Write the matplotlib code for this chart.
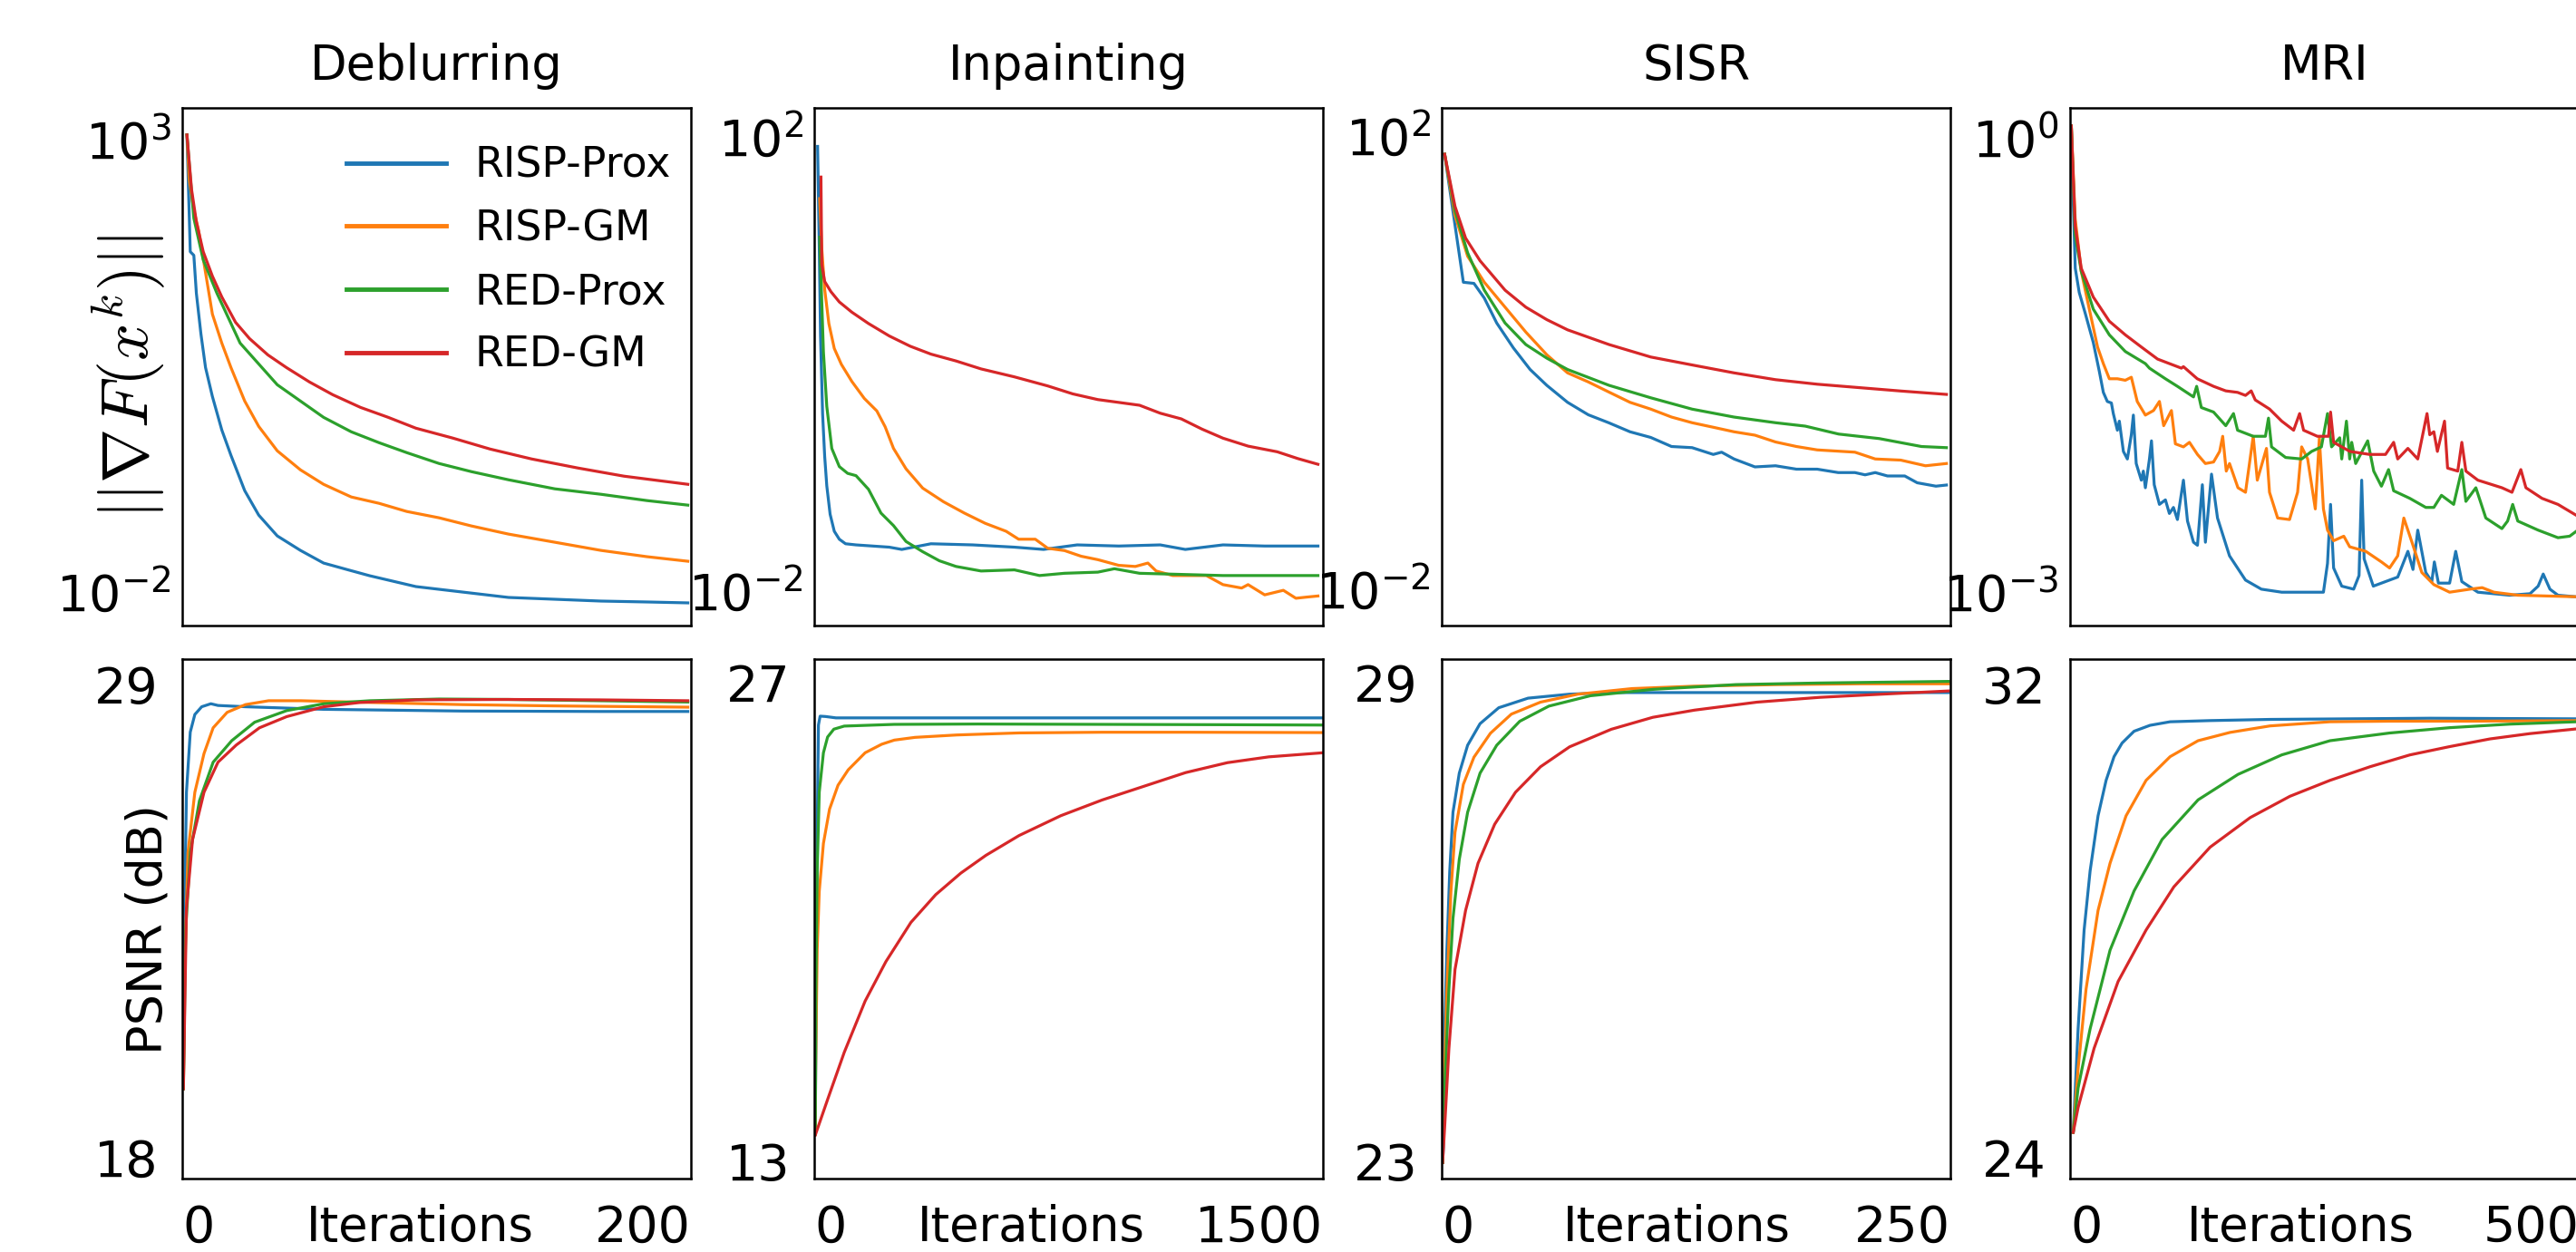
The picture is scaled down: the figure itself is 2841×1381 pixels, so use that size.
import numpy as np
import matplotlib
matplotlib.use('Agg')
import matplotlib.pyplot as plt
from matplotlib.ticker import NullLocator, FixedLocator

plt.rcParams['font.family'] = ['DejaVu Sans']
plt.rcParams['mathtext.fontset'] = 'dejavusans'

# -------- labels / axes settings --------
methods = ['RISP-Prox', 'RISP-GM', 'RED-Prox', 'RED-GM']
colors = ['#1f77b4', '#ff7f0e', '#2ca02c', '#d62728']
tasks = ['Deblurring', 'Inpainting', 'SISR', 'MRI']
max_iters = [200, 1500, 250, 500]

grad_ticks = [[1e-2, 1e3], [1e-2, 1e2], [1e-2, 1e2], [1e-3, 1e0]]
grad_tick_labels = [[r'$10^{-2}$', r'$10^{3}$'], [r'$10^{-2}$', r'$10^{2}$'],
                    [r'$10^{-2}$', r'$10^{2}$'], [r'$10^{-3}$', r'$10^{0}$']]
grad_ylim_log10 = [(-2.32, 3.40), (-2.26, 2.30), (-2.28, 2.29), (-3.19, 0.23)]

psnr_ticks = [[18, 29], [13, 27], [23, 29], [24, 32]]
psnr_ylim = [(17.51, 29.60), (12.50, 27.69), (22.79, 29.30), (23.65, 32.43)]

# -------- data --------
# every list of lists is ordered: RISP-Prox, RISP-GM, RED-Prox, RED-GM
# gradient norms are stored as log10 values

# Deblurring, ||grad F||
deb_g_it = [
    [1.8, 3.1, 4.5, 5.5, 7.3, 9.1, 11.8, 15.5, 19.1, 24.5, 30.0, 37.3, 46.4, 55.5, 64.5, 73.6, 91.8, 110, 128.2, 146.4, 164.5, 182.7, 198.7],
    [1.8, 2.7, 4.5, 6.4, 9.1, 11.8, 15.5, 19.1, 24.5, 30.0, 37.3, 46.4, 55.5, 66.4, 77.3, 88.2, 100.9, 113.6, 128.2, 146.4, 164.5, 182.7, 198.7],
    [1.8, 3.1, 4.5, 8.2, 13.6, 22.7, 30.0, 37.3, 46.4, 55.5, 66.4, 77.3, 88.2, 100.9, 113.6, 128.2, 146.4, 164.5, 182.7, 198.7],
    [1.8, 3.6, 5.5, 8.2, 11.8, 15.5, 20.9, 26.4, 33.6, 40.9, 50.0, 59.1, 70.0, 80.9, 91.8, 106.4, 120.9, 137.3, 155.5, 173.6, 198.7],
]
deb_g_log = [
    [3.10, 1.81, 1.77, 1.35, 0.90, 0.53, 0.21, -0.16, -0.44, -0.83, -1.10, -1.33, -1.49, -1.63, -1.70, -1.77, -1.89, -1.95, -2.01, -2.03, -2.05, -2.06, -2.07],
    [3.10, 2.60, 2.27, 2.04, 1.58, 1.12, 0.80, 0.53, 0.16, -0.12, -0.39, -0.60, -0.76, -0.90, -0.97, -1.06, -1.13, -1.22, -1.31, -1.40, -1.49, -1.56, -1.61],
    [3.10, 2.64, 2.18, 1.72, 1.35, 0.80, 0.57, 0.34, 0.16, -0.02, -0.18, -0.30, -0.41, -0.53, -0.62, -0.71, -0.81, -0.87, -0.94, -0.99],
    [3.10, 2.50, 2.14, 1.81, 1.54, 1.31, 1.03, 0.85, 0.67, 0.53, 0.37, 0.23, 0.09, -0.02, -0.14, -0.25, -0.37, -0.48, -0.58, -0.67, -0.76],
]

# Inpainting, ||grad F||
inp_g_it = [
    [9.8, 14.8, 18.4, 24.6, 30.7, 36.9, 46.7, 59, 73.8, 92.2, 123, 221, 258, 344, 467, 590, 676, 775, 898, 1020, 1094, 1205, 1328, 1485],
    [16, 22.1, 30.7, 43, 59, 79.9, 110.7, 147.5, 184.4, 209, 233.6, 270.5, 319.7, 381, 442.6, 504, 565.6, 602.5, 651.6, 688.5, 737.7, 786.9, 836, 897.5, 946.7, 983.6, 1008, 1057, 1156, 1205, 1260, 1279, 1328, 1383, 1420, 1451, 1485],
    [16, 20.9, 27, 36.9, 51.6, 73.8, 98.4, 123, 159.8, 196.7, 233.6, 270.5, 319.7, 368.9, 418, 491.8, 590, 664, 737.7, 836, 885, 959, 1082, 1205, 1328, 1485],
    [19.7, 22.1, 30.7, 49.2, 73.8, 110.7, 159.8, 221.3, 282.8, 344.3, 418, 491.8, 590, 688.5, 762.3, 836, 910, 959, 1020, 1082, 1143, 1205, 1279, 1365, 1426, 1485],
]
inp_g_log = [
    [1.96, 1.06, 0.29, -0.40, -0.77, -1.03, -1.28, -1.43, -1.50, -1.54, -1.55, -1.57, -1.59, -1.54, -1.55, -1.57, -1.59, -1.55, -1.56, -1.55, -1.59, -1.55, -1.56, -1.56],
    [1.50, 1.06, 0.70, 0.40, 0.18, 0.04, -0.11, -0.26, -0.37, -0.51, -0.70, -0.88, -1.05, -1.17, -1.27, -1.36, -1.43, -1.50, -1.50, -1.58, -1.60, -1.65, -1.68, -1.73, -1.74, -1.71, -1.78, -1.82, -1.82, -1.90, -1.93, -1.90, -1.99, -1.95, -2.02, -2.01, -2.00],
    [1.16, 0.70, 0.15, -0.33, -0.70, -0.86, -0.92, -0.94, -1.06, -1.27, -1.38, -1.52, -1.61, -1.69, -1.74, -1.78, -1.77, -1.82, -1.80, -1.79, -1.76, -1.80, -1.81, -1.82, -1.82, -1.82],
    [1.69, 0.92, 0.77, 0.68, 0.59, 0.50, 0.40, 0.29, 0.20, 0.13, 0.07, 0.00, -0.07, -0.15, -0.22, -0.27, -0.30, -0.32, -0.39, -0.44, -0.53, -0.61, -0.68, -0.73, -0.79, -0.84],
]

# SISR, ||grad F||
sis_g_it = [
    [1.4, 10.6, 15.8, 20.9, 27, 35.2, 43.4, 51.6, 61.8, 72, 82, 92.5, 102.7, 112.9, 123, 133.4, 137.5, 143.6, 153.9, 164, 174.3, 184.5, 194.8, 203, 208, 213, 219, 227.5, 233.6, 242.8, 248],
    [1.4, 6.5, 12.7, 20.9, 31.1, 41.3, 51.6, 61.8, 72, 82.2, 92.5, 102.7, 112.9, 123, 133.4, 143.6, 153.9, 164, 174.3, 184.5, 203, 213, 225.5, 237.7, 248],
    [1.4, 6.5, 12.7, 20.9, 31.1, 41.3, 51.6, 61.8, 82.2, 102.7, 123, 143.6, 164, 178.6, 195, 215, 235.7, 248],
    [1.4, 6.5, 11.7, 18.8, 31.1, 41.3, 51.6, 61.8, 82.2, 102.7, 123, 143.6, 164, 184.5, 205, 225.5, 248],
]
sis_g_log = [
    [1.88, 0.75, 0.74, 0.61, 0.39, 0.17, -0.02, -0.16, -0.31, -0.42, -0.49, -0.57, -0.62, -0.70, -0.71, -0.77, -0.75, -0.81, -0.88, -0.87, -0.90, -0.90, -0.93, -0.93, -0.95, -0.93, -0.96, -0.96, -1.02, -1.05, -1.04],
    [1.88, 1.34, 0.98, 0.75, 0.53, 0.31, 0.11, -0.05, -0.13, -0.22, -0.31, -0.37, -0.44, -0.49, -0.53, -0.57, -0.60, -0.66, -0.70, -0.73, -0.75, -0.81, -0.82, -0.87, -0.85],
    [1.88, 1.38, 1.01, 0.68, 0.39, 0.20, 0.08, -0.02, -0.16, -0.27, -0.37, -0.44, -0.49, -0.52, -0.59, -0.63, -0.70, -0.71],
    [1.88, 1.42, 1.14, 0.94, 0.68, 0.53, 0.42, 0.33, 0.20, 0.09, 0.02, -0.05, -0.11, -0.15, -0.18, -0.21, -0.24],
]

# MRI, ||grad F||
mri_g_it = [
    [1.2, 3.1, 5.1, 9, 15, 22.8, 28.7, 32.7, 36.6, 40.6, 42.5, 46.5, 48.4, 52.4, 56.3, 60.2, 62.2, 65, 70, 72, 74, 78, 80, 82.7, 87.8, 93.7, 97.6, 101.6, 105.5, 111.4, 115.4, 121.3, 125.2, 130, 133, 139, 144.9, 156.7, 172.4, 188, 208, 235, 249, 253, 256, 259, 267, 278.7, 284, 286.6, 289, 298, 314, 322, 332, 337, 341.7, 349.6, 355.5, 358, 362, 373, 379, 385, 400.8, 432, 452, 460, 465, 471.6, 479.5, 497],
    [1.2, 5, 11, 18.9, 27, 32.7, 38.6, 46.5, 54.3, 60.2, 66, 74, 82, 87.8, 92, 99.6, 103.5, 111.4, 117.3, 125.2, 133, 141, 147, 150, 153.5, 156.7, 165, 172.4, 180, 184, 193, 196, 204, 215.7, 223.6, 227.6, 233.5, 241, 245, 249, 253, 259, 269, 274.8, 290.6, 306, 314, 322, 328, 336, 345.7, 357.5, 373, 393, 405, 416.5, 440, 497],
    [1.2, 5, 11, 22.8, 38.6, 54.3, 74, 78, 93.7, 105.5, 121.3, 124.4, 129, 141, 153, 160.6, 164.6, 180, 192, 195, 198, 211.8, 227.6, 237.4, 247, 253, 257, 265, 267, 271.6, 274.8, 276.8, 280.7, 292.5, 298.4, 306, 313, 318, 333.9, 349.6, 357.5, 365, 377, 385, 389, 398.8, 408.6, 424.4, 430, 435, 440, 460, 479.5, 491, 497],
    [1.2, 5, 11, 22.8, 38.6, 54.3, 70, 86, 101.6, 109.4, 111.4, 125, 141, 153, 164.6, 172.4, 178, 182, 196, 208, 219.7, 225.6, 229.5, 243, 254, 256, 259, 275, 294.5, 310, 318, 322, 332, 341.7, 350.8, 353.5, 357.5, 361, 368, 371, 381, 385, 389, 400.8, 424.4, 434.3, 443, 448, 463.8, 479.5, 497],
]
mri_g_log = [
    [0.11, -0.39, -0.83, -0.99, -1.13, -1.32, -1.51, -1.65, -1.71, -1.72, -1.79, -1.90, -1.84, -2.04, -2.09, -1.93, -1.80, -2.12, -2.23, -2.17, -2.28, -2.09, -1.97, -2.26, -2.39, -2.36, -2.45, -2.41, -2.49, -2.23, -2.50, -2.64, -2.66, -2.26, -2.64, -2.19, -2.48, -2.73, -2.89, -2.95, -2.97, -2.97, -2.97, -2.78, -2.39, -2.81, -2.93, -2.95, -2.86, -2.23, -2.75, -2.93, -2.89, -2.87, -2.70, -2.82, -2.56, -2.84, -2.90, -2.77, -2.91, -2.91, -2.70, -2.90, -2.97, -2.99, -2.98, -2.93, -2.85, -2.95, -2.99, -3.00],
    [0.11, -0.50, -0.85, -1.10, -1.35, -1.46, -1.56, -1.56, -1.57, -1.55, -1.71, -1.80, -1.77, -1.71, -1.87, -1.77, -1.99, -2.01, -1.98, -2.06, -2.12, -2.11, -2.04, -1.94, -2.17, -2.12, -2.28, -2.31, -1.94, -2.23, -2.02, -2.31, -2.48, -2.49, -2.31, -2.01, -2.09, -2.42, -1.95, -2.42, -2.56, -2.63, -2.60, -2.67, -2.70, -2.77, -2.81, -2.73, -2.48, -2.64, -2.84, -2.92, -2.97, -2.95, -2.94, -2.97, -2.99, -3.00],
    [0.11, -0.61, -0.85, -1.10, -1.27, -1.38, -1.46, -1.49, -1.56, -1.61, -1.68, -1.61, -1.75, -1.78, -1.87, -1.79, -1.90, -1.94, -1.94, -1.82, -2.01, -2.08, -2.09, -2.04, -2.01, -1.79, -2.01, -1.95, -2.09, -1.84, -2.09, -1.98, -2.12, -1.97, -2.17, -2.27, -2.16, -2.30, -2.35, -2.41, -2.41, -2.33, -2.39, -2.16, -2.37, -2.28, -2.48, -2.55, -2.50, -2.39, -2.50, -2.56, -2.61, -2.60, -2.57],
    [0.11, -0.55, -0.83, -1.02, -1.18, -1.27, -1.35, -1.43, -1.47, -1.49, -1.48, -1.56, -1.61, -1.64, -1.65, -1.67, -1.64, -1.70, -1.76, -1.84, -1.90, -1.79, -1.90, -1.94, -1.94, -1.78, -1.98, -2.04, -2.06, -2.06, -1.98, -2.09, -2.02, -2.09, -1.79, -1.93, -1.91, -2.04, -1.84, -2.15, -2.17, -1.98, -2.17, -2.23, -2.28, -2.31, -2.16, -2.28, -2.35, -2.39, -2.46],
]

# Deblurring, PSNR (dB)
deb_p_it = [
    [0.4, 0.9, 1.6, 3.1, 4.9, 7.6, 11.2, 14, 24.8, 55.6, 110, 164, 198.7],
    [0.4, 0.9, 2.2, 4.9, 8.5, 12.1, 17.6, 24.8, 33.9, 46.6, 73.7, 110, 146, 198.7],
    [0.4, 1.3, 3.1, 6.7, 12.1, 19.4, 28.4, 41, 55.6, 73.7, 100.9, 128, 164, 198.7],
    [0.4, 1.6, 4, 8.5, 14, 21.2, 30.3, 41, 55.6, 69.8, 91.8, 128, 164, 198.7],
]
deb_p = [
    [19.6, 23.8, 26.5, 27.9, 28.31, 28.49, 28.56, 28.52, 28.49, 28.43, 28.39, 28.38, 28.38],
    [19.6, 22.4, 25.1, 26.5, 27.4, 28.0, 28.36, 28.54, 28.63, 28.63, 28.59, 28.54, 28.51, 28.48],
    [19.6, 23.3, 25.1, 26.3, 27.2, 27.7, 28.13, 28.40, 28.56, 28.63, 28.67, 28.66, 28.63, 28.60],
    [19.6, 23.8, 25.4, 26.5, 27.2, 27.6, 28.0, 28.26, 28.49, 28.59, 28.65, 28.66, 28.65, 28.63],
]

# Inpainting, PSNR (dB)
inp_p_it = [
    [3, 4.9, 8.6, 12.3, 17.2, 33, 64, 236, 727, 1500],
    [3, 4, 8.6, 14.7, 27, 45, 70, 100, 150, 199, 236, 297, 420, 604, 849, 1095, 1500],
    [3, 4.9, 8.6, 14.7, 27, 39.3, 57.7, 88.4, 236, 481, 849, 1218, 1500],
    [3, 39.3, 88.4, 150, 211, 285, 358, 432, 506, 604, 727, 849, 972, 1095, 1218, 1340, 1500],
]
inp_p = [
    [13.8, 16.9, 22.6, 25.76, 26.02, 26.01, 25.97, 25.97, 25.97, 25.97],
    [13.8, 15.7, 19.2, 20.9, 22.3, 23.3, 24.0, 24.45, 24.95, 25.2, 25.32, 25.40, 25.47, 25.53, 25.55, 25.55, 25.54],
    [13.8, 18.0, 21.5, 23.8, 24.95, 25.41, 25.64, 25.73, 25.78, 25.79, 25.78, 25.77, 25.76],
    [13.77, 14.81, 16.19, 17.69, 18.84, 19.99, 20.80, 21.43, 21.95, 22.53, 23.11, 23.57, 23.97, 24.37, 24.66, 24.83, 24.95],
]

# SISR, PSNR (dB)
sis_p_it = [
    [0.4, 0.8, 1.4, 2.5, 3.9, 5.5, 8.6, 12.7, 18.8, 28, 42.4, 62.8, 83.3, 124, 185.6, 249],
    [0.4, 1.4, 2.5, 4.5, 6.5, 10.6, 15.8, 23.9, 34.2, 48.5, 66.9, 93.5, 124, 165, 206, 249],
    [0.4, 1.4, 3.5, 5.5, 8.6, 12.7, 18.8, 27, 38.3, 52.6, 73, 103.7, 144.6, 185.6, 249],
    [0.4, 1.4, 3.5, 6.5, 11.7, 17.8, 26, 36.2, 48.5, 62.8, 83.3, 103.7, 124.2, 154.9, 185.6, 216.3, 249],
]
sis_p = [
    [22.99, 23.18, 24.66, 25.65, 26.64, 27.38, 27.87, 28.22, 28.49, 28.69, 28.81, 28.86, 28.88, 28.88, 28.88, 28.88],
    [22.99, 24.17, 25.16, 26.39, 27.13, 27.73, 28.07, 28.37, 28.61, 28.76, 28.86, 28.93, 28.96, 28.98, 28.99, 28.99],
    [22.99, 23.92, 25.16, 26.05, 26.79, 27.38, 27.87, 28.22, 28.52, 28.71, 28.84, 28.92, 28.98, 29.00, 29.02],
    [22.99, 23.43, 24.42, 25.41, 26.15, 26.74, 27.23, 27.63, 27.95, 28.20, 28.42, 28.57, 28.66, 28.76, 28.82, 28.86, 28.90],
]

# MRI, PSNR (dB)
mri_p_it = [
    [3.1, 7.9, 13.8, 19.7, 27.5, 35.4, 43.2, 51.1, 62.9, 78.6, 98.3, 137.6, 196.5, 275, 353.7, 498],
    [3.1, 7.9, 15.7, 27.5, 39.3, 55, 74.7, 98.3, 125.8, 157.2, 196.5, 255.5, 314, 393, 498],
    [3.1, 7.9, 19.7, 39.3, 62.9, 90.4, 125.8, 165, 208, 255.5, 314, 373, 432, 498],
    [3.1, 7.9, 23.6, 47.2, 74.7, 102, 137.6, 177, 216, 255.5, 294.8, 334, 373, 412.6, 452, 498],
]
mri_p = [
    [24.43, 26.18, 27.85, 28.85, 29.78, 30.38, 30.78, 31.01, 31.21, 31.31, 31.37, 31.39, 31.41, 31.42, 31.43, 31.42],
    [24.43, 25.51, 26.85, 28.18, 28.98, 29.78, 30.38, 30.78, 31.05, 31.19, 31.30, 31.37, 31.38, 31.38, 31.39],
    [24.43, 25.18, 26.18, 27.51, 28.51, 29.38, 30.05, 30.48, 30.81, 31.05, 31.18, 31.27, 31.33, 31.37],
    [24.43, 24.85, 25.85, 26.98, 27.85, 28.58, 29.25, 29.75, 30.11, 30.38, 30.61, 30.81, 30.95, 31.08, 31.17, 31.25],
]

grad_its = [deb_g_it, inp_g_it, sis_g_it, mri_g_it]
grad_logs = [deb_g_log, inp_g_log, sis_g_log, mri_g_log]
psnr_its = [deb_p_it, inp_p_it, sis_p_it, mri_p_it]
psnr_vals = [deb_p, inp_p, sis_p, mri_p]

# -------- layout --------
fig = plt.figure(figsize=(28.41, 13.81), dpi=100)
lefts = [0.0708, 0.3161, 0.5597, 0.8036]
width = 0.1975
xlabel_x = [0.467, 0.426, 0.462, 0.453]

for i in range(4):
    # ---- top row: gradient norm ----
    ax = fig.add_axes([lefts[i], 0.5004, width, 0.4135])
    for m in range(4):
        ax.plot(grad_its[i][m], 10 ** np.array(grad_logs[i][m]),
                color=colors[m], lw=2.3, label=methods[m])
    ax.set_yscale('log')
    ax.set_xlim(0, max_iters[i])
    lo, hi = grad_ylim_log10[i]
    ax.set_ylim(10 ** lo, 10 ** hi)
    ax.yaxis.set_major_locator(FixedLocator(grad_ticks[i]))
    ax.yaxis.set_minor_locator(NullLocator())
    ax.set_yticklabels(grad_tick_labels[i])
    ax.set_xticks([])
    ax.tick_params(axis='y', length=0, labelsize=40, pad=9)
    for lab in ax.get_yticklabels():
        lab.set_va('center')
    for s in ax.spines.values():
        s.set_linewidth(1.8)
    ax.set_title(tasks[i], fontsize=38, pad=22)
    if i == 0:
        ax.set_ylabel(r'$||\nabla F(x^k)||$', fontsize=52, math_fontfamily='cm')
        ax.yaxis.set_label_coords(-0.03, 0.48)
        leg = ax.legend(loc='upper right', bbox_to_anchor=(0.993, 0.959),
                        borderaxespad=0, fontsize=33, frameon=False,
                        handlelength=2.4, handletextpad=0.7, labelspacing=0.54)
        for ln in leg.get_lines():
            ln.set_linewidth(3.5)

    # ---- bottom row: PSNR ----
    ax = fig.add_axes([lefts[i], 0.0587, width, 0.4149])
    for m in range(4):
        ax.plot(psnr_its[i][m], psnr_vals[i][m], color=colors[m], lw=2.3)
    ax.set_xlim(0, max_iters[i])
    ax.set_ylim(*psnr_ylim[i])
    ax.set_yticks(psnr_ticks[i])
    ax.set_xticks([0, max_iters[i]])
    ax.tick_params(axis='both', length=0, labelsize=40)
    ax.tick_params(axis='y', pad=19)
    ax.tick_params(axis='x', pad=20)
    xl = ax.get_xticklabels()
    xl[0].set_ha('left')
    xl[-1].set_ha('right')
    for s in ax.spines.values():
        s.set_linewidth(1.8)
    ax.set_xlabel('Iterations', fontsize=38)
    ax.xaxis.set_label_coords(xlabel_x[i], -0.049)
    if i == 0:
        ax.set_ylabel('PSNR (dB)', fontsize=39)
        ax.yaxis.set_label_coords(-0.02, 0.48)

fig.savefig('out.png', dpi=100)
